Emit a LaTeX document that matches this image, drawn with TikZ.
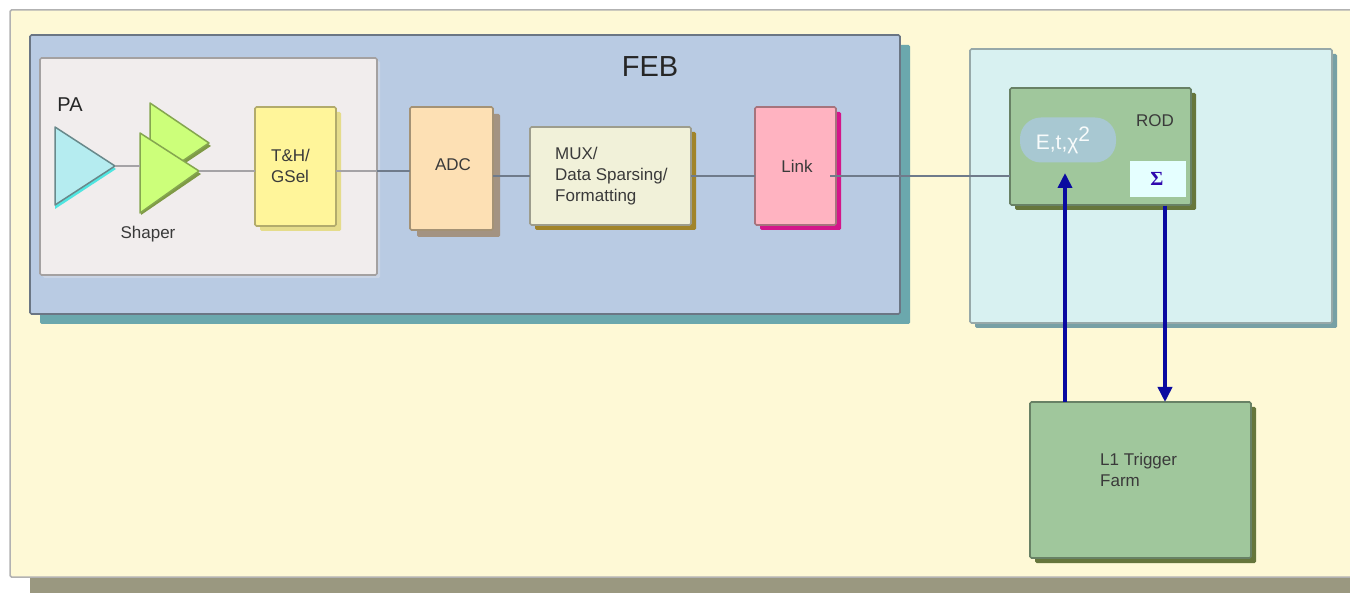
\documentclass[tikz,border=0pt]{standalone}
\usepackage{fontspec}
\setmainfont{Liberation Sans}
\newfontfamily\serifb{Liberation Serif}
\usetikzlibrary{shadows,arrows.meta}
\definecolor{bgy}{HTML}{FEF9D6}
\definecolor{bgs}{HTML}{9A9880}
\definecolor{febc}{HTML}{B9CBE3}
\definecolor{febs}{HTML}{6BA8AD}
\definecolor{innerc}{HTML}{F1EDED}
\definecolor{pac}{HTML}{B5ECF0}
\definecolor{pas}{HTML}{50E5E0}
\definecolor{shc}{HTML}{CCFF7A}
\definecolor{shs}{HTML}{7F9A45}
\definecolor{thc}{HTML}{FFF59A}
\definecolor{adcc}{HTML}{FDE0B4}
\definecolor{adcs}{HTML}{A39382}
\definecolor{muxc}{HTML}{F1F1D9}
\definecolor{muxs}{HTML}{A1842A}
\definecolor{linkc}{HTML}{FFB3C1}
\definecolor{links}{HTML}{D4168A}
\definecolor{rodp}{HTML}{D8F1F1}
\definecolor{rods}{HTML}{77A0A5}
\definecolor{rodc}{HTML}{A0C79C}
\definecolor{rodd}{HTML}{66763C}
\definecolor{ell}{HTML}{A8C8D2}
\definecolor{sigc}{HTML}{E5FFFF}
\definecolor{navy}{HTML}{0A0AA0}
\definecolor{txt}{HTML}{3A3A3A}
\definecolor{wirein}{HTML}{A5A3A6}
\definecolor{wireout}{HTML}{6F7B8B}
\newcommand{\fs}[1]{\fontsize{#1}{21}\selectfont}
\tikzset{
  x=1pt,y=-1pt,
  boxs/.style={draw=#1,line width=1.6pt,rounded corners=1.5pt,anchor=north west,inner sep=0pt,outer sep=0pt},
  shad/.style args={#1 by #2}{general shadow={fill=#1,shadow xshift=#2pt,shadow yshift=-#2pt}},
  wire/.style={draw=wireout,line width=1.3pt},
  wirei/.style={draw=wirein,line width=1.5pt},
  lab/.style={text=txt,inner sep=0pt,align=left,font=\fs{17}},
  bus/.style={draw=navy,line width=3.6pt},
  tri/.style={line width=1.5pt,line join=round},
}
\newcommand{\bx}[7]{% name x0 y0 x1 y1 style-extra
  \node[boxs=#6,#7,minimum width=\the\dimexpr #4pt-#2pt\relax,minimum height=\the\dimexpr #5pt-#3pt\relax] (#1) at (#2,#3) {};}
\begin{document}
\begin{tikzpicture}
\useasboundingbox (0,0) rectangle (1350,593);
\fill[white] (0,0) rectangle (1350,593);
\fill[bgs] (30,560) rectangle (1350,593);
\fill[bgy,draw=black!30,line width=1.5pt,rounded corners=1.5pt] (10,10) -- (1353,10) -- (1353,577) -- (10,577) -- cycle;

\bx{feb}{30}{35}{900}{314}{black!42!febc}{fill=febc,shad=febs by 10}
\bx{inner}{40}{58}{377}{275}{black!32!innerc}{fill=innerc,shad=febc!70!innerc by 3}
\bx{rodpanel}{970}{49}{1332}{323}{black!30!rodp}{fill=rodp,shad=rods by 5}

% amplifiers
\coordinate (patop) at (55,127); \coordinate (pabot) at (55,205); \coordinate (patip) at (115,166);
\fill[pas] (55,130) -- (55,209) -- (116,169) -- cycle;
\filldraw[tri,fill=pac,draw=black!42!pac] (patop) -- (pabot) -- (patip) -- cycle;
\coordinate (shbtop) at (150,103); \coordinate (shbbot) at (150,183); \coordinate (shbtip) at (209,143);
\fill[shs] (151,106) -- (151,186) -- (211,146) -- cycle;
\filldraw[tri,fill=shc,draw=black!35!shc] (shbtop) -- (shbbot) -- (shbtip) -- cycle;
\coordinate (shtop) at (140,133); \coordinate (shbot) at (140,213); \coordinate (shtip) at (199,171);
\coordinate (shin) at (140,166);
\fill[shs] (141,136) -- (141,215) -- (201,174) -- cycle;
\filldraw[tri,fill=shc,draw=black!35!shc] (shtop) -- (shbot) -- (shtip) -- cycle;

\bx{th}{255}{107}{336}{226}{black!30!thc}{fill=thc,shad=thc!90!black by 5}
\bx{adc}{410}{107}{493}{230}{black!35!adcc}{fill=adcc,shad=adcs by 7}
\bx{mux}{530}{127}{691}{225}{black!35!muxc}{fill=muxc,shad=muxs by 5}
\bx{link}{755}{107}{836}{225}{black!35!linkc}{fill=linkc,shad=links by 5}
\bx{rod}{1010}{88}{1191}{205}{black!35!rodc}{fill=rodc,shad=rodd by 5}
\bx{l1}{1030}{402}{1251}{558}{black!35!rodc}{fill=rodc,shad=rodd by 5}

\node[fill=ell,rounded corners=21pt,minimum width=96pt,minimum height=45pt,inner sep=0pt] (etc) at (1068,140) {};
\node[fill=sigc,minimum width=56pt,minimum height=36pt,inner sep=0pt] (sig) at (1158,179) {};

% connectors
\coordinate (y1) at (0,171);
\coordinate (y2) at (0,176);
\draw[wirei] (patip) -- (shin);
\draw[wirei] (shtip) -- (th.west |- y1);
\draw[wirei] (th.east |- y1) -- (inner.east |- y1);
\draw[wire] (inner.east |- y1) -- (adc.west |- y1);
\draw[wire] (adc.east |- y2) -- (mux.west |- y2);
\draw[wire] (mux.east |- y2) -- (link.west |- y2);
\coordinate (linkout) at (830,176);
\draw[wire] (linkout) -- (rod.west |- y2);

% bus arrows
\coordinate (upx) at (1065,173);
\coordinate (dnx) at (1165,206);
\draw[bus,-{Triangle[length=15pt,width=14pt]}] (upx |- l1.north) -- (upx);
\draw[bus,-{Triangle[length=15pt,width=14pt]}] (dnx) -- (dnx |- l1.north);

% labels
\node[lab,font=\fs{29},text=black!85] (tfeb) at (650,67) {FEB};
\node[lab,font=\fs{20},text=black!85] (tpa) at (70,105) {PA};
\node[lab] (tsh) at (148,234) {Shaper};
\node[lab,anchor=west] (tth) at (271,165.5) {T\&H/\\GSel};
\node[lab] (tadc) at (453,165) {ADC};
\node[lab,anchor=west] (tmux) at (555,176) {MUX/\\Data Sparsing/\\Formatting};
\node[lab] (tlink) at (797,166) {Link};
\node[lab] (trod) at (1155,121) {ROD};
\node[lab,anchor=west] (tl1) at (1100,470) {L1 Trigger\\Farm};
\node[lab,text=white!92!ell,font=\fs{21}] (tetc) at (1063,140) {E,t,χ\raisebox{8pt}{\fs{21}2}};
\node[inner sep=0pt,text=navy!85!magenta,font=\serifb\bfseries\fs{20}] (tsig) at (1157,179) {Σ};
\end{tikzpicture}
\end{document}
